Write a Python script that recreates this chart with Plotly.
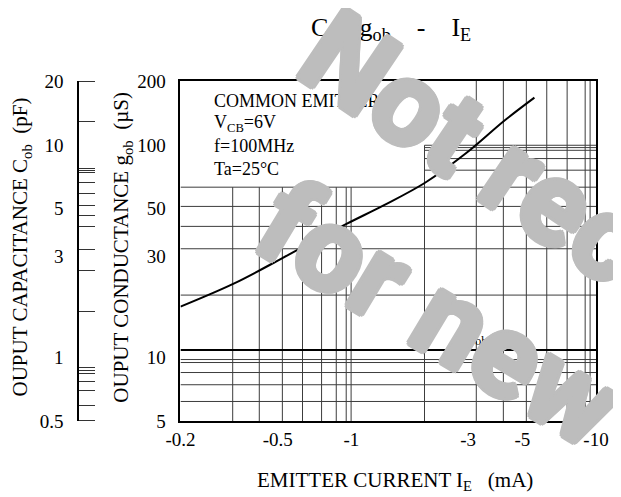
import math
import plotly.graph_objects as go

# ---------------- data ----------------
ie_ma = [-0.2, -0.33, -0.52, -0.61, -0.95, -1.36, -2.0, -2.93, -4.24, -5.6]
gob_us = [17.3, 22.2, 29.2, 32.3, 42.3, 52.0, 66.3, 91.0, 130.6, 167.0]

cob_ie_ma = [-0.2, -10.0]
cob_pf = [1.08, 1.08]

x_tick_vals = [-0.2, -0.5, -1, -3, -5, -10]
x_tick_text = ["-0.2", "-0.5", "-1", "-3", "-5", "-10"]
gob_tick_vals = [5, 10, 30, 50, 100, 200]
gob_tick_text = ["5", "10", "30", "50", "100", "200"]
cob_tick_vals = [0.5, 1, 3, 5, 10, 20]
cob_tick_text = ["0.5", "1", "3", "5", "10", "20"]
cob_tick_marks = [19.98, 12.9, 7.72, 7.58, 7.45, 6.68, 5.89, 5.19, 4.65, 4.14,
                  3.2, 2.56, 1.64, 0.895, 0.863, 0.833, 0.77, 0.695, 0.59, 0.5005]

# grid lines of the chart (values on the axes, as drawn in the reference)
grid_low_gob = [6.18, 7.41, 8.46, 9.43, 9.74, 19.6, 32.4, 41.3, 51.3, 63.2]
grid_high_gob = [76.0, 86.2, 94.3, 97.1, 99.6]
grid_low_ie = [-0.327, -0.42, -0.522, -0.631, -0.755, -0.867, -0.952, -0.997]
grid_mid_ie = [-1.99]
grid_full_ie = [-3.24, -4.18, -5.19, -6.29, -7.62, -9.03, -9.46]

X_MIN, X_MAX = 0.2, 10.0
G_MIN, G_MAX = 5.0, 200.0
C_MIN, C_MAX = 0.5, 20.0

# ---------------- layout geometry (window pixels, page margin 8px) ----------------
OFF = 8
W, H = 621 - OFF, 497 - OFF
PLOT_L, PLOT_R, PLOT_T, PLOT_B = 183, 606, 80.7, 421
COB_AXIS_X = 79
ML = 32
MR = (621 - PLOT_R)
MT = PLOT_T - OFF
MB = 497 - PLOT_B
PW, PH = W - ML - MR, H - MT - MB


def P(px, py):
    """window pixel -> paper coordinates"""
    return (px - OFF - ML) / PW, 1 - (py - OFF - MT) / PH


SERIF = "Liberation Serif, Times New Roman, serif"
GRID = dict(color="#3c3c3c", width=1)
NB = "\u00a0"

fig = go.Figure()

fig.add_trace(go.Scatter(
    x=[-v for v in ie_ma], y=gob_us, mode="lines",
    line=dict(color="black", width=2, shape="spline", smoothing=1.0),
    xaxis="x", yaxis="y", hoverinfo="skip"))

fig.add_trace(go.Scatter(
    x=[-v for v in cob_ie_ma], y=cob_pf, mode="lines",
    line=dict(color="black", width=2),
    xaxis="x", yaxis="y2", hoverinfo="skip"))

shapes = []
for g in grid_low_gob:
    shapes.append(dict(type="line", xref="x", yref="y", x0=X_MIN, x1=X_MAX,
                       y0=g, y1=g, line=GRID, layer="below"))
for g in grid_high_gob:
    shapes.append(dict(type="line", xref="x", yref="y", x0=-grid_mid_ie[0], x1=X_MAX,
                       y0=g, y1=g, line=GRID, layer="below"))
for v in grid_low_ie:
    shapes.append(dict(type="line", xref="x", yref="y", x0=-v, x1=-v,
                       y0=G_MIN, y1=grid_low_gob[-1], line=GRID, layer="below"))
for v in grid_mid_ie:
    shapes.append(dict(type="line", xref="x", yref="y", x0=-v, x1=-v,
                       y0=G_MIN, y1=grid_high_gob[-1], line=GRID, layer="below"))
for v in grid_full_ie:
    shapes.append(dict(type="line", xref="x", yref="y", x0=-v, x1=-v,
                       y0=G_MIN, y1=G_MAX, line=GRID, layer="below"))

annotations = []


def ann(text, px, py, size, **kw):
    x, y = P(px, py)
    d = dict(text=text, x=x, y=y, xref="paper", yref="paper", showarrow=False,
             font=dict(family=SERIF, size=size, color="black"))
    d.update(kw)
    annotations.append(d)


# title
ann("C<sub>ob</sub>, g<sub>ob</sub>" + NB * 4 + "-" + NB * 4 + "I<sub>E</sub>", 397, 29, 26,
    xanchor="center", yanchor="middle")
# condition box
for txt, yy in [("COMMON EMITTER", 101), ("V<sub>CB</sub>=6V", 123),
                ("f=100MHz", 146), ("Ta=25\u00b0C", 169)]:
    ann(txt, 215, yy, 18, xanchor="left", yanchor="middle")
# curve label
ann("C<sub>ob</sub>", 498, 336, 18, xanchor="right", yanchor="middle")
# axis titles
ann("OUPUT CONDUCTANCE g<sub>ob</sub>" + NB * 2 + "(\u00b5S)", 124, 247, 21,
    textangle=-90, xanchor="center", yanchor="middle")
ann("OUPUT CAPACITANCE C<sub>ob</sub>" + NB * 2 + "(pF)", 21, 247, 21,
    textangle=-90, xanchor="center", yanchor="middle")
ann("EMITTER CURRENT I<sub>E</sub>" + NB * 3 + "(mA)", 401, 481, 21,
    xanchor="center", yanchor="middle")

# watermark (big rotated grey text)
WM_SIZE = 118
WM_GREY = "#bdbdbd"
_s = ["%dpx %dpx 0 %s" % (dx, dy, WM_GREY)
      for dx, dy in [(3, 0), (-3, 0), (0, 3), (0, -3), (2, 2), (-2, -2), (2, -2), (-2, 2)]]
WM = dict(family="Roboto, Liberation Sans, sans-serif", size=WM_SIZE,
          color=WM_GREY, weight="bold", shadow=", ".join(_s))
ASC, DESC = 0.928, 0.244


def wm_anchor(cx, cy, theta, adv_em, vis_em):
    """top-left anchor of the rotated box so that a given glyph centre lands on (cx, cy)"""
    t = math.radians(theta)
    ux, uy = math.cos(t), math.sin(t)
    nx, ny = -math.sin(t), math.cos(t)
    down = 1 + (ASC - vis_em) * WM_SIZE
    along = adv_em * WM_SIZE
    tlx = cx - down * nx - along * ux
    tly = cy - down * ny - along * uy
    ht = (ASC + DESC) * WM_SIZE + 2
    return tlx - ht * math.sin(t), tly


for txt, cx, cy, ang, adv, vis in [("Not recommended", 352, 60, 34, 0.36, 0.356),
                                   ("for new design", 290, 218, 31, 0.178, 0.37)]:
    ax_, ay_ = wm_anchor(cx, cy, ang, adv, vis)
    x, y = P(ax_, ay_)
    annotations.append(dict(text=txt, x=x, y=y, xref="paper", yref="paper",
                            showarrow=False, textangle=ang, font=WM,
                            xanchor="left", yanchor="top"))

tickfont = dict(family=SERIF, size=19, color="black")

fig.update_layout(
    width=W, height=H,
    margin=dict(l=ML, r=MR, t=MT, b=MB),
    showlegend=False,
    plot_bgcolor="white", paper_bgcolor="white",
    font=dict(family=SERIF, color="black"),
    shapes=shapes, annotations=annotations,
    xaxis=dict(type="log", domain=[(PLOT_L - OFF - ML) / PW, 1],
               range=[math.log10(X_MIN), math.log10(X_MAX)],
               showgrid=False, zeroline=False, ticks="",
               tickvals=[-v for v in x_tick_vals], ticktext=x_tick_text,
               tickfont=tickfont, ticklabelstandoff=0,
               showline=True, mirror=True, linecolor="black", linewidth=2),
    yaxis=dict(type="log", range=[math.log10(G_MIN), math.log10(G_MAX)],
               showgrid=False, zeroline=False, ticks="",
               tickvals=gob_tick_vals, ticktext=gob_tick_text,
               tickfont=tickfont, ticklabelstandoff=9,
               showline=True, mirror=True, linecolor="black", linewidth=2),
    yaxis2=dict(type="log", range=[math.log10(C_MIN), math.log10(C_MAX)],
                overlaying="y", anchor="free", side="left",
                position=(COB_AXIS_X - OFF - ML) / PW,
                showgrid=False, zeroline=False,
                ticks="", tickvals=cob_tick_vals, ticktext=cob_tick_text,
                tickfont=tickfont, ticklabelstandoff=10,
                minor=dict(tickmode="array", tickvals=cob_tick_marks, ticks="inside",
                           ticklen=16, tickwidth=1, tickcolor="#333333", showgrid=False),
                showline=True, linecolor="black", linewidth=2),
)

fig.write_html("out.html")
